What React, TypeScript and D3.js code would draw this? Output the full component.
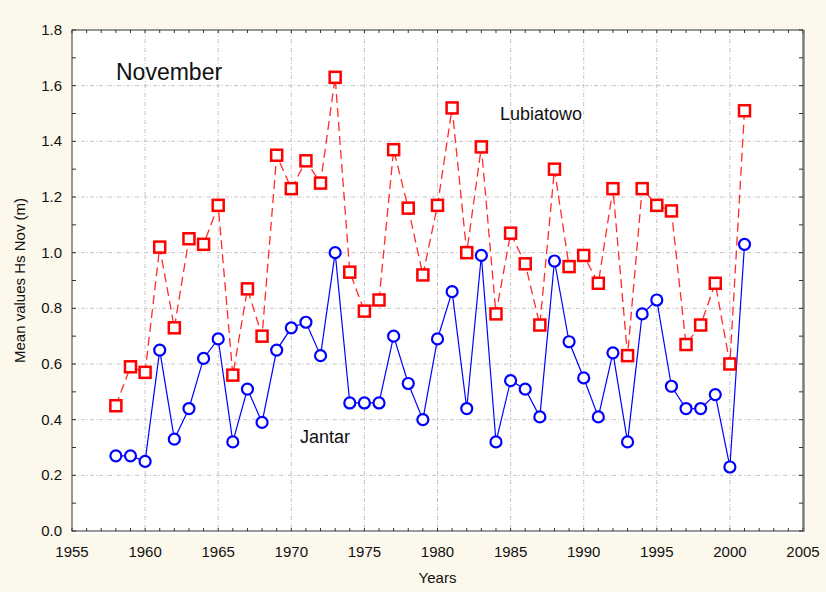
import React from "react";
import * as d3 from "d3";

const years = [1958,1959,1960,1961,1962,1963,1964,1965,1966,1967,1968,1969,1970,1971,1972,1973,1974,1975,1976,1977,1978,1979,1980,1981,1982,1983,1984,1985,1986,1987,1988,1989,1990,1991,1992,1993,1994,1995,1996,1997,1998,1999,2000,2001];
const jantar = [0.27,0.27,0.25,0.65,0.33,0.44,0.62,0.69,0.32,0.51,0.39,0.65,0.73,0.75,0.63,1.00,0.46,0.46,0.46,0.70,0.53,0.40,0.69,0.86,0.44,0.99,0.32,0.54,0.51,0.41,0.97,0.68,0.55,0.41,0.64,0.32,0.78,0.83,0.52,0.44,0.44,0.49,0.23,1.03];
const lubiatowo = [0.45,0.59,0.57,1.02,0.73,1.05,1.03,1.17,0.56,0.87,0.70,1.35,1.23,1.33,1.25,1.63,0.93,0.79,0.83,1.37,1.16,0.92,1.17,1.52,1.00,1.38,0.78,1.07,0.96,0.74,1.30,0.95,0.99,0.89,1.23,0.63,1.23,1.17,1.15,0.67,0.74,0.89,0.60,1.51];
const xTicks = [1955,1960,1965,1970,1975,1980,1985,1990,1995,2000,2005];
const yTicks = [0,0.2,0.4,0.6,0.8,1.0,1.2,1.4,1.6,1.8];

const W = 826, H = 592;
const L = 72, T = 30, R = 803, B = 531;
const font = "'Liberation Sans', Arial, sans-serif";

export default function App() {
  const x = d3.scaleLinear().domain([1955, 2005]).range([L, R]);
  const y = d3.scaleLinear().domain([0, 1.8]).range([B, T]);
  const lineJ = d3.line<number>().x((_, i) => x(years[i])).y((d) => y(d))(jantar) || "";
  const lineL = d3.line<number>().x((_, i) => x(years[i])).y((d) => y(d))(lubiatowo) || "";
  const minorX = d3.range(1955, 2006, 1);
  const minorY = d3.range(0, 1.81, 0.1);
  return (
    <div style={{ position: "fixed", left: 0, top: 0 }}>
      <svg width={W} height={H} style={{ display: "block" }}>
        <rect x={0} y={0} width={W} height={H} fill="#FDF8EC" />
        <rect x={L} y={T} width={R - L + 3} height={B - T + 3} fill="#ffffff" />
        {/* grid */}
        {xTicks.slice(1, -1).map((t) => (
          <line key={"gx" + t} x1={x(t)} x2={x(t)} y1={T} y2={B} stroke="#c4c4c4" strokeDasharray="4,2,1,2" />
        ))}
        {yTicks.slice(1, -1).map((t) => (
          <line key={"gy" + t} x1={L} x2={R} y1={y(t)} y2={y(t)} stroke="#c4c4c4" strokeDasharray="4,2,1,2" />
        ))}
        {/* minor ticks */}
        {minorX.map((t) => (
          <g key={"mx" + t}>
            <line x1={x(t)} x2={x(t)} y1={B} y2={B - 3} stroke="#333" />
            <line x1={x(t)} x2={x(t)} y1={T} y2={T + 3} stroke="#333" />
          </g>
        ))}
        {minorY.map((t, i) => (
          <g key={"my" + i}>
            <line x1={L} x2={L + 4} y1={y(t)} y2={y(t)} stroke="#333" />
            <line x1={R} x2={R - 4} y1={y(t)} y2={y(t)} stroke="#333" />
          </g>
        ))}
        {/* frame */}
        <rect x={L} y={T} width={R - L} height={B - T} fill="none" stroke="#333" strokeWidth={1} />
        <line x1={R + 1} x2={R + 1} y1={T} y2={B + 1} stroke="#777" strokeWidth={1.5} />
        {/* series */}
        <path d={lineL} fill="none" stroke="#ff2a2a" strokeWidth={1.3} strokeDasharray="9,5" />
        <path d={lineJ} fill="none" stroke="#0000ff" strokeWidth={1.2} />
        {lubiatowo.map((v, i) => (
          <rect key={"sq" + i} x={x(years[i]) - 5.5} y={y(v) - 5.5} width={11} height={11} fill="#ffffff" stroke="#ff0000" strokeWidth={2.5} />
        ))}
        {jantar.map((v, i) => (
          <circle key={"c" + i} cx={x(years[i])} cy={y(v)} r={5.5} fill="#ffffff" stroke="#0000ff" strokeWidth={2.2} />
        ))}
        {/* tick labels */}
        {xTicks.map((t) => (
          <text key={"xl" + t} x={x(t)} y={B + 26} textAnchor="middle" fontFamily={font} fontSize={15} fill="#111">{t}</text>
        ))}
        {yTicks.map((t) => (
          <text key={"yl" + t} x={L - 10} y={y(t) + 5} textAnchor="end" fontFamily={font} fontSize={15} fill="#111">{t.toFixed(1)}</text>
        ))}
        <text x={(L + R) / 2} y={583} textAnchor="middle" fontFamily={font} fontSize={15} fill="#111">Years</text>
        <text transform={`translate(25,${(T + B) / 2}) rotate(-90)`} textAnchor="middle" fontFamily={font} fontSize={15} fill="#111">Mean values Hs Nov (m)</text>
        <text x={116} y={80} fontFamily={font} fontSize={23} fill="#111">November</text>
        <text x={500} y={120} fontFamily={font} fontSize={18} fill="#111">Lubiatowo</text>
        <text x={300} y={443} fontFamily={font} fontSize={18} fill="#111">Jantar</text>
      </svg>
    </div>
  );
}
